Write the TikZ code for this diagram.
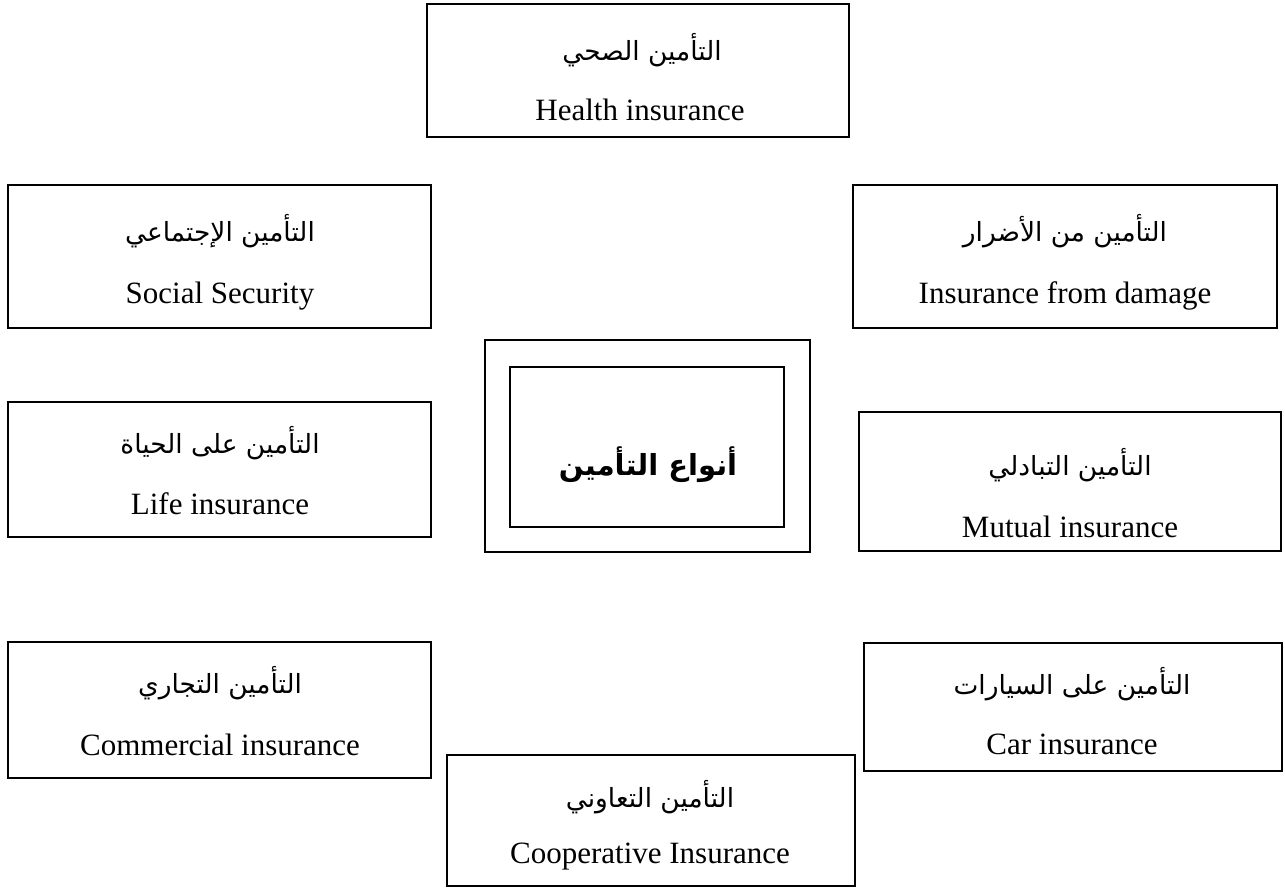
\documentclass[tikz,border=0pt]{standalone}
\usepackage{fontspec}
\setmainfont{Liberation Serif}
\newfontfamily\arabicfont[Script=Arabic]{DejaVu Sans}
\TeXXeTstate=1
\begin{document}
\begin{tikzpicture}[x=0.5pt, y=-0.5pt,
  box/.style={draw=black, line width=1.1pt, rectangle, inner sep=0pt},
  entxt/.style={font=\fontsize{15.5}{18}\selectfont, inner sep=0pt},
  artxt/.style={font=\arabicfont\fontsize{13.2}{16}\selectfont, inner sep=0pt},
  titletxt/.style={font=\arabicfont\bfseries\fontsize{14.5}{18}\selectfont, inner sep=0pt}]
\useasboundingbox (0,0) rectangle (1285,888);

% a framed box given by its name and its left, top, right and bottom edges
\newcommand{\catbox}[5]{%
  \node[box, minimum width={(#4-#2)*0.5pt}, minimum height={(#5-#3)*0.5pt}]
    (#1) at ({(#2+#4)/2},{(#3+#5)/2}) {};}

\catbox{health}{427}{4}{849}{137}
\catbox{social}{8}{185}{431}{328}
\catbox{damage}{853}{185}{1277}{328}
\catbox{life}{8}{402}{431}{537}
\catbox{mutual}{859}{412}{1281}{551}
\catbox{commercial}{8}{642}{431}{778}
\catbox{car}{864}{643}{1282}{771}
\catbox{coop}{447}{755}{855}{886}

% central double frame
\catbox{outer}{485}{340}{810}{552}
\catbox{inner}{510}{367}{784}{527}
\node[titletxt] (title) at (648,465) {\beginR أنواع التأمين\endR};

% labels
\node[artxt] (healthAr) at (642,50) {\beginR التأمين الصحي\endR};
\node[entxt] (healthEn) at (640,110) {Health insurance};

\node[artxt] (socialAr) at (220,231) {\beginR التأمين الإجتماعي\endR};
\node[entxt] (socialEn) at (220,296) {Social Security};

\node[artxt] (damageAr) at (1065,231) {\beginR التأمين من الأضرار\endR};
\node[entxt] (damageEn) at (1065,296) {Insurance from damage};

\node[artxt] (lifeAr) at (220,443) {\beginR التأمين على الحياة\endR};
\node[entxt] (lifeEn) at (220,504) {Life insurance};

\node[artxt] (mutualAr) at (1070,465) {\beginR التأمين التبادلي\endR};
\node[entxt] (mutualEn) at (1070,527) {Mutual insurance};

\node[artxt] (commercialAr) at (220,683) {\beginR التأمين التجاري\endR};
\node[entxt] (commercialEn) at (220,745) {Commercial insurance};

\node[artxt] (carAr) at (1072,684) {\beginR التأمين على السيارات\endR};
\node[entxt] (carEn) at (1072,744) {Car insurance};

\node[artxt] (coopAr) at (650,797) {\beginR التأمين التعاوني\endR};
\node[entxt] (coopEn) at (650,857) {Cooperative Insurance};
\end{tikzpicture}
\end{document}
